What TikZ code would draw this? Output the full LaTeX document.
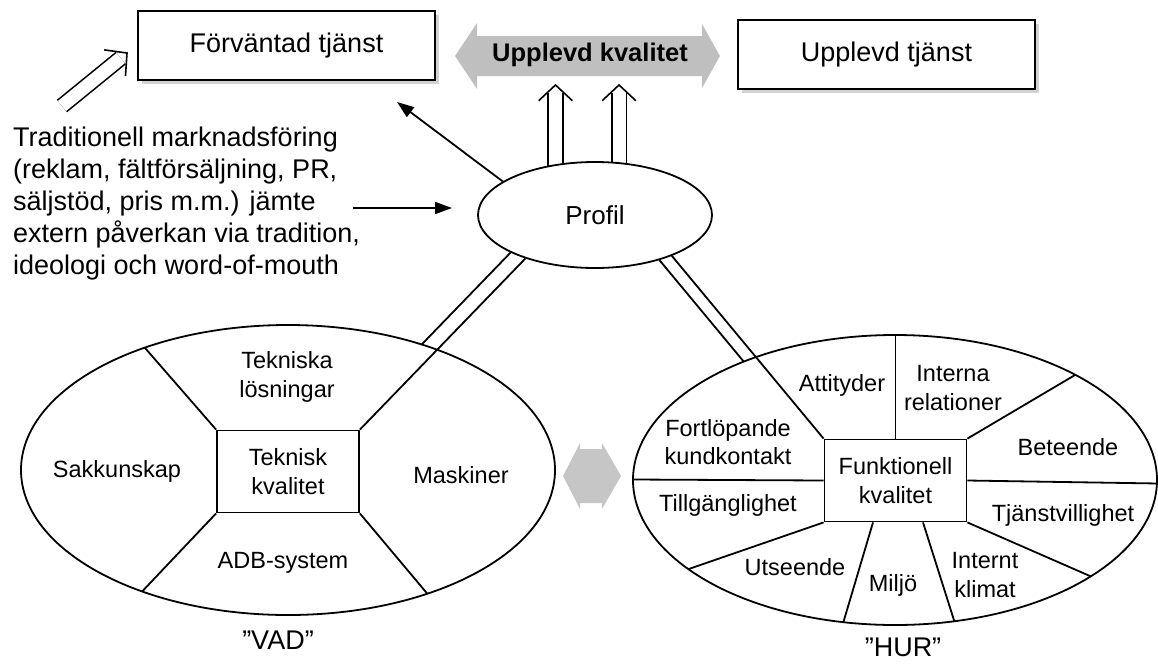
\documentclass[tikz,border=0pt]{standalone}
\usepackage{fontspec}
\setmainfont{Liberation Sans}
\usetikzlibrary{arrows.meta,shapes.geometric,shadows,calc}
\pgfdeclarelayer{bg}
\pgfsetlayers{bg,main}
\begin{document}
\begin{tikzpicture}[x=1pt,y=-1pt,
  line width=1.8pt,
  lbl/.style={font=\fontsize{23.5}{28.5}\selectfont, align=center, inner sep=0pt},
  bigtxt/.style={font=\fontsize{27}{32}\selectfont, inner sep=0pt},
  topbox/.style={draw, line width=2.2pt, fill=white, minimum width=297pt, minimum height=69pt, inner sep=0pt,
    font=\fontsize{27}{32}\selectfont,
    general shadow={fill=gray!35, shadow xshift=4pt, shadow yshift=-4pt}},
  cbox/.style={draw, fill=white, minimum width=142pt, minimum height=82pt, inner sep=0pt, align=center,
    font=\fontsize{23.5}{28.5}\selectfont},
  bigell/.style={draw, ellipse, fill=white, inner sep=0pt},
  dblline/.style={double, double distance=13pt, line width=1.6pt},
  chev/.style={line width=1.6pt, line join=miter},
  thin/.style={line width=1.8pt},
  arr/.style={-{Triangle[length=17pt,width=12pt]}, line width=1.8pt},
]
\useasboundingbox (0,0) rectangle (1158,664);

% grey double arrow "Upplevd kvalitet"
\fill[gray!50] (455,56) -- (477,23) -- (477,36) -- (702,36) -- (702,24) -- (720,56)
  -- (702,88) -- (702,76) -- (477,76) -- (477,89) -- cycle;
\node[font=\bfseries\fontsize{25.5}{30}\selectfont, inner sep=0pt] (uk) at (590,55) {Upplevd kvalitet};

% top boxes
\node[topbox] (fv) at (286.5,45.5) {Förväntad tjänst};
\node[topbox] (ut) at (886.5,54.5) {Upplevd tjänst};

% Profil
\node[bigell, minimum width=234pt, minimum height=106pt, font=\fontsize{26}{30}\selectfont] (pr) at (595,215) {Profil};

% big ellipses
\node[bigell, minimum width=534pt, minimum height=290pt] (vad) at (288,470) {};
\node[bigell, minimum width=524pt, minimum height=290pt] (hur) at (895,480) {};

% centre boxes
\node[cbox] (tk) at (288,471.5) {Teknisk\\kvalitet};
\node[cbox] (rb) at (895.5,480.5) {Funktionell\\kvalitet};

% divisions left
\begin{scope}
\clip (288,470) ellipse [x radius=267, y radius=145];
\draw (tk.north west) -- ++(-148,-170);
\draw (tk.south west) -- ++(-144,152);
\draw (tk.south east) -- ++(136,162);
\end{scope}

% divisions right
\begin{scope}
\clip (895,480) ellipse [x radius=262, y radius=145];
\draw (rb.north) -- ++(0,-200);
\draw (rb.north east) -- ++(220,-130);
\draw (rb.east) -- ++(382,6);
\draw (rb.south east) -- ++(256,112);
\draw ([xshift=27.5pt]rb.south) -- ++(64,202);
\draw ([xshift=-22.5pt]rb.south) -- ++(-60,202);
\draw (rb.south west) -- ++(-272,94);
\draw (rb.west) -- ++(-382,-2);
\end{scope}

% double connections Profil - ellipses
\draw (tk.north east) -- (pr.212);
\draw (rb.north west) -- (pr.332);
\coordinate (upA) at (555.5,85);
\coordinate (upB) at (619,85);
\begin{pgfonlayer}{bg}
\draw[thin] (pr.204) -- ($(tk.north east)+(pr.204)-(pr.212)$);
\draw[thin] (pr.325) -- ($(rb.north west)+(pr.325)-(pr.332)$);
\draw[dblline] (upA |- pr.center) -- ($(upA)!8pt!(upA |- pr.center)$);
\draw[dblline] (upB |- pr.center) -- ($(upB)!8pt!(upB |- pr.center)$);
\end{pgfonlayer}
\draw[chev] ($(upA)!23pt!47:(upA |- pr.center)$) -- (upA) -- ($(upA)!23pt!-47:(upA |- pr.center)$);
\draw[chev] ($(upB)!23pt!47:(upB |- pr.center)$) -- (upB) -- ($(upB)!23pt!-47:(upB |- pr.center)$);

% left labels
\node[lbl] (tl) at (287,377) {Tekniska\\lösningar};
\node[lbl] (sk) at (117,471) {Sakkunskap};
\node[lbl] (ms) at (461,475) {Maskiner};
\node[lbl] (adb) at (283,563) {ADB-system};
\node[bigtxt] (vadl) at (278,640) {”VAD”};

% right labels
\node[lbl] (att) at (842,385) {Attityder};
\node[lbl] (ir) at (953,388) {Interna\\relationer};
\node[lbl] (fk) at (728,442) {Fortlöpande\\kundkontakt};
\node[lbl] (bt) at (1068,447) {Beteende};
\node[lbl] (tg) at (728,505) {Tillgänglighet};
\node[lbl] (tv) at (1063,515) {Tjänstvillighet};
\node[lbl] (us) at (795,567) {Utseende};
\node[lbl] (mj) at (893,585) {Miljö};
\node[lbl] (ik) at (985,575) {Internt\\klimat};
\node[bigtxt] (hurl) at (903,647) {”HUR”};

% left text
\node[bigtxt, anchor=north west, align=left] (trad) at (13,127) {Traditionell marknadsföring\\(reklam, fältförsäljning, PR,\\säljstöd, pris m.m.) jämte\\extern påverkan via tradition,\\ideologi och word-of-mouth};

% arrows
\coordinate (dtail) at (62,106);
\coordinate (dtip) at (127,53);
\draw[dblline] (dtail) -- ($(dtip)!8pt!(dtail)$);
\draw[chev] ($(dtip)!23pt!47:(dtail)$) -- (dtip) -- ($(dtip)!23pt!-47:(dtail)$);
\coordinate (ftip) at (397,102);
\draw[arr] (pr.160) -- (ftip);
\coordinate (htail) at (353,208);
\coordinate (htip) at (452,208);
\draw[arr] (htail) -- (htip);

% small grey double arrow between ellipses
\fill[gray!45] (563,476) -- (580,443) -- (580,449) -- (602,449) -- (602,443) -- (621,476)
  -- (602,509) -- (602,503) -- (580,503) -- (580,509) -- cycle;
\end{tikzpicture}
\end{document}
